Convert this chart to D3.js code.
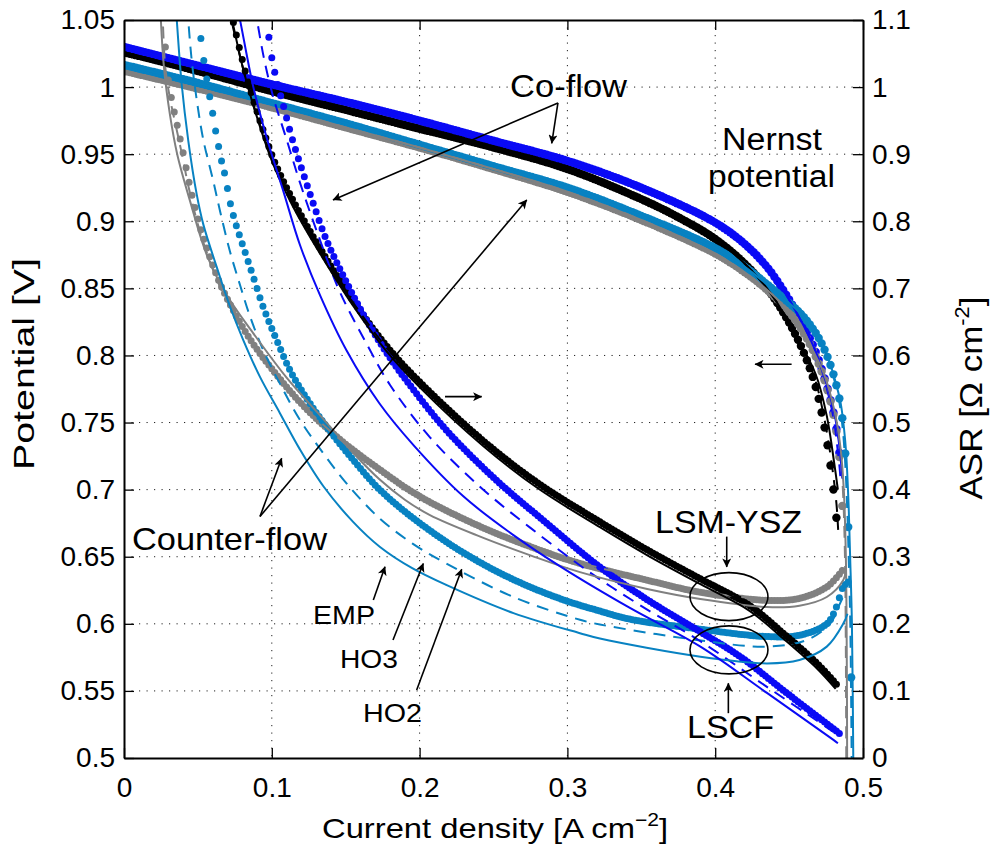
<!DOCTYPE html>
<html>
<head>
<meta charset="utf-8">
<script src="https://cdn.jsdelivr.net/npm/d3@7"></script>
<style>
  body { margin: 0; background: #fff; }
  svg { display: block; }
  text { font-family: "Liberation Sans", Arial, Helvetica, sans-serif; fill: #000; }
</style>
</head>
<body>
<svg id="chart" width="991" height="848"></svg>
<script>
// ---- axis ticks ----
const xTicks = [0, 0.1, 0.2, 0.3, 0.4, 0.5];
const vTicks = [0.5, 0.55, 0.6, 0.65, 0.7, 0.75, 0.8, 0.85, 0.9, 0.95, 1, 1.05];
const asrTicks = [0, 0.1, 0.2, 0.3, 0.4, 0.5, 0.6, 0.7, 0.8, 0.9, 1, 1.1];

// ---- potential curves (left axis, V) : shared body + per-model tail ----
const blackPot = [[0,1.026],[0.05,1.012],[0.1,0.997],[0.15,0.983],[0.2,0.969],[0.25,0.955],[0.3,0.939],[0.349,0.917],[0.375,0.903],[0.401,0.886],[0.424,0.864],[0.439,0.844],[0.455,0.814]];
const blackPotHo2Tail = [[0.466,0.784],[0.473,0.752],[0.478,0.718],[0.481,0.69],[0.4826,0.672]];
const blackPotHo3Tail = [[0.467,0.784],[0.474,0.752],[0.479,0.718],[0.482,0.69],[0.4832,0.67]];
const blackPotEmpTail = [[0.468,0.786],[0.4755,0.755],[0.4805,0.72],[0.483,0.70]];

const bluePot = [[0,1.030],[0.05,1.016],[0.1,1.002],[0.15,0.989],[0.2,0.975],[0.25,0.960],[0.3,0.945],[0.35,0.925],[0.4,0.899],[0.42,0.883],[0.435,0.866],[0.447,0.847],[0.457,0.828],[0.466,0.808],[0.472,0.79]];
const bluePotHo2Tail = [[0.477,0.771],[0.481,0.752],[0.4835,0.732],[0.4852,0.715],[0.486,0.703]];
const bluePotHo3Tail = [[0.4765,0.771],[0.4803,0.752],[0.4826,0.732],[0.4842,0.716],[0.4849,0.706]];
const bluePotEmpTail = [[0.4772,0.772],[0.4813,0.753],[0.4838,0.734],[0.4855,0.716],[0.4862,0.708]];

const tealPot = [[0,1.0165],[0.05,1.003],[0.1,0.988],[0.15,0.973],[0.2,0.957],[0.25,0.941],[0.3,0.925],[0.35,0.904],[0.4,0.88],[0.42,0.866],[0.435,0.853],[0.448,0.841],[0.458,0.831],[0.466,0.82],[0.472,0.809],[0.477,0.796]];
const tealPotHo2Tail = [[0.481,0.782],[0.4845,0.765],[0.4868,0.745],[0.488,0.727],[0.4895,0.69],[0.4905,0.65],[0.4915,0.60],[0.492,0.56]];
const tealPotHo3Tail = [[0.4805,0.782],[0.484,0.765],[0.4863,0.745],[0.4876,0.727],[0.4892,0.69],[0.4903,0.65],[0.4914,0.6],[0.4924,0.49]];
const tealPotEmpTail = [[0.481,0.782],[0.4848,0.765],[0.4872,0.745],[0.4886,0.727],[0.4902,0.69],[0.4913,0.65],[0.4925,0.6],[0.4935,0.49]];

const grayPot = [[0,1.0122],[0.05,0.999],[0.1,0.985],[0.15,0.970],[0.2,0.955],[0.25,0.939],[0.3,0.922],[0.35,0.901],[0.4,0.876],[0.42,0.862],[0.435,0.849],[0.448,0.835],[0.458,0.82],[0.466,0.804]];
const grayPotHo2Tail = [[0.472,0.788],[0.477,0.77],[0.481,0.75],[0.4835,0.73],[0.4855,0.70],[0.487,0.65],[0.4876,0.60],[0.4879,0.55]];
const grayPotHo3Tail = [[0.4725,0.788],[0.4776,0.77],[0.4817,0.75],[0.4843,0.73],[0.4864,0.70],[0.4878,0.65],[0.4884,0.58],[0.4887,0.49]];
const grayPotEmpTail = [[0.473,0.788],[0.4782,0.77],[0.4823,0.75],[0.4849,0.73],[0.487,0.70],[0.4884,0.65],[0.489,0.58],[0.4893,0.49]];

// ---- ASR curves (right axis, ohm cm2) ----
const blackAsrHo2 = [[0.0715,1.12],[0.0807,1.035],[0.0875,0.981],[0.0954,0.928],[0.102,0.888],[0.1123,0.840],[0.1213,0.803],[0.1326,0.760],[0.155,0.682],[0.1777,0.614],[0.2003,0.56],[0.243,0.473],[0.28,0.41],[0.322,0.352],[0.355,0.309],[0.39,0.267],[0.4235,0.227],[0.446,0.186],[0.469,0.141],[0.4824,0.109]];
const blackAsrHo3 = [[0.0705,1.12],[0.0797,1.035],[0.0865,0.981],[0.0944,0.928],[0.101,0.888],[0.1113,0.840],[0.1203,0.803],[0.1316,0.760],[0.154,0.682],[0.1767,0.614],[0.1993,0.56],[0.242,0.473],[0.279,0.41],[0.321,0.352],[0.354,0.309],[0.389,0.267],[0.4225,0.227],[0.445,0.186],[0.468,0.141],[0.4818,0.109]];
const blackAsrEmp = [[0.0712,1.12],[0.0803,1.03],[0.0872,0.975],[0.095,0.921],[0.1017,0.881],[0.112,0.832],[0.121,0.795],[0.1326,0.752],[0.155,0.674],[0.1777,0.606],[0.2003,0.552],[0.243,0.465],[0.28,0.402],[0.322,0.344],[0.355,0.301],[0.39,0.259],[0.4235,0.219],[0.446,0.178],[0.469,0.133],[0.4815,0.103]];

const blueAsrHo2 = [[0.0955,1.12],[0.0999,1.045],[0.1033,1.01],[0.108,0.971],[0.1134,0.926],[0.1213,0.871],[0.128,0.827],[0.137,0.772],[0.151,0.707],[0.164,0.653],[0.178,0.603],[0.191,0.563],[0.218,0.489],[0.252,0.414],[0.286,0.35],[0.32,0.288],[0.354,0.236],[0.39,0.188],[0.417,0.151],[0.446,0.101],[0.469,0.062],[0.4856,0.034]];
const blueAsrHo3 = [[0.0885,1.12],[0.0945,1.045],[0.101,0.985],[0.110,0.922],[0.119,0.858],[0.1326,0.772],[0.146,0.695],[0.164,0.618],[0.18,0.556],[0.207,0.478],[0.241,0.404],[0.275,0.343],[0.313,0.28],[0.349,0.228],[0.39,0.174],[0.435,0.106],[0.48,0.039]];
const blueAsrEmp = [[0.0765,1.12],[0.0785,1.1],[0.0875,1.0],[0.0965,0.925],[0.1078,0.845],[0.119,0.765],[0.1326,0.69],[0.1507,0.607],[0.173,0.528],[0.196,0.466],[0.2296,0.39],[0.263,0.333],[0.297,0.283],[0.342,0.224],[0.39,0.166],[0.435,0.097],[0.48,0.027],[0.483,0.022]];

const grayAsrHo2 = [[0.027,1.12],[0.0289,1.03],[0.0323,0.981],[0.0357,0.946],[0.0401,0.901],[0.0447,0.851],[0.0514,0.792],[0.056,0.76],[0.065,0.707],[0.0762,0.658],[0.0875,0.617],[0.1055,0.565],[0.1236,0.52],[0.146,0.475],[0.173,0.43],[0.2,0.39],[0.241,0.345],[0.275,0.315],[0.3085,0.29],[0.354,0.265],[0.39,0.247],[0.435,0.235],[0.457,0.238],[0.4755,0.255],[0.4844,0.275],[0.4878,0.285]];
const grayAsrHo3 = [[0.026,1.12],[0.0279,1.03],[0.0313,0.981],[0.0347,0.946],[0.0391,0.901],[0.0437,0.851],[0.0504,0.792],[0.055,0.76],[0.064,0.707],[0.0752,0.658],[0.0865,0.618],[0.1045,0.566],[0.1226,0.522],[0.145,0.477],[0.172,0.432],[0.199,0.392],[0.24,0.347],[0.274,0.317],[0.3075,0.292],[0.353,0.267],[0.389,0.249],[0.434,0.237],[0.456,0.24],[0.4748,0.257],[0.4838,0.277],[0.4872,0.287]];
const grayAsrEmp = [[0.0245,1.12],[0.027,1.03],[0.031,0.96],[0.036,0.90],[0.0447,0.83],[0.056,0.75],[0.0695,0.69],[0.0875,0.633],[0.11,0.567],[0.137,0.50],[0.155,0.455],[0.173,0.415],[0.19,0.385],[0.207,0.362],[0.241,0.33],[0.275,0.302],[0.3085,0.277],[0.354,0.252],[0.39,0.237],[0.435,0.225],[0.457,0.227],[0.4755,0.24],[0.4866,0.265],[0.4885,0.28]];

const tealAsrHo2 = [[0.0495,1.12],[0.0503,1.098],[0.0525,1.065],[0.0543,1.035],[0.0563,1.008],[0.0582,0.983],[0.0604,0.956],[0.0622,0.932],[0.0661,0.889],[0.0683,0.869],[0.0717,0.829],[0.0751,0.80],[0.0807,0.762],[0.0875,0.717],[0.0942,0.672],[0.1033,0.623],[0.1123,0.578],[0.1236,0.536],[0.137,0.494],[0.1552,0.444],[0.173,0.40],[0.196,0.357],[0.2296,0.306],[0.2635,0.266],[0.297,0.236],[0.322,0.219],[0.342,0.207],[0.39,0.192],[0.435,0.181],[0.457,0.183],[0.4755,0.2],[0.482,0.225],[0.4866,0.255],[0.491,0.264]];
const tealAsrHo3 = [[0.043,1.12],[0.0435,1.1],[0.0458,1.04],[0.0492,0.981],[0.0537,0.921],[0.0604,0.86],[0.065,0.815],[0.0717,0.755],[0.0785,0.705],[0.0853,0.658],[0.0942,0.608],[0.1055,0.558],[0.119,0.504],[0.1349,0.454],[0.1507,0.409],[0.173,0.357],[0.195,0.32],[0.218,0.29],[0.2635,0.24],[0.3085,0.206],[0.322,0.199],[0.3875,0.176],[0.435,0.166],[0.462,0.176],[0.4777,0.2],[0.4844,0.23],[0.4875,0.245]];
const tealAsrEmp = [[0.035,1.12],[0.0357,1.1],[0.039,1.005],[0.0435,0.92],[0.0492,0.84],[0.0537,0.795],[0.0627,0.732],[0.0717,0.673],[0.0807,0.623],[0.092,0.568],[0.1055,0.514],[0.119,0.46],[0.1349,0.405],[0.155,0.352],[0.173,0.315],[0.195,0.283],[0.218,0.258],[0.2635,0.216],[0.3085,0.186],[0.322,0.178],[0.39,0.151],[0.435,0.141],[0.457,0.146],[0.4755,0.166],[0.4866,0.2],[0.4895,0.215]];

// ---- annotations (data units: current density, potential) ----
const arrows = [
  [[0.2936,0.9882],[0.1414,0.9159]],
  [[0.2936,0.9882],[0.2894,0.9581]],
  [[0.0920,0.6800],[0.1067,0.7234]],
  [[0.0920,0.6800],[0.2725,0.9159]],
  [[0.2172,0.7693],[0.2420,0.7693]],
  [[0.4517,0.7934],[0.4269,0.7934]],
  [[0.4078,0.6650],[0.4078,0.6424]],
  [[0.4089,0.5334],[0.4089,0.5557]],
  [[0.1687,0.6178],[0.1766,0.6426]],
  [[0.1820,0.5880],[0.2025,0.6450]],
  [[0.1980,0.5507],[0.2285,0.6407]]
];
const ellipses = [[0.4093,0.6203],[0.4093,0.5806]];
const notes = [
  ["Co-flow", 0.2612, 0.9926, 32, 117],
  ["Nernst", 0.4046, 0.9531, 31, 100],
  ["potential", 0.3951, 0.9256, 31, 127],
  ["Counter-flow", 0.0054, 0.6551, 32, 195],
  ["LSM-YSZ", 0.3593, 0.6677, 32, 147],
  ["LSCF", 0.3809, 0.5150, 32, 87],
  ["EMP", 0.1279, 0.6000, 26, 62],
  ["HO3", 0.1461, 0.5671, 26, 58],
  ["HO2", 0.1617, 0.5269, 26, 59]
];

const cBlack = "#000000", cBlue = "#0a0af5", cTeal = "#0882c2", cGray = "#808080";

const svg = d3.select("#chart");
const L = 124, R = 863, T = 20, B = 758;
const x = d3.scaleLinear().domain([0, 0.5]).range([L, R]);
const yV = d3.scaleLinear().domain([0.5, 1.05]).range([B, T]);
const yA = d3.scaleLinear().domain([0, 1.1]).range([B, T]);

// grid
const grid = svg.append("g").attr("stroke", "#222").attr("stroke-width", 1).attr("stroke-dasharray", "1.2 6.3");
grid.selectAll("line.gx").data(xTicks.slice(1, -1)).join("line")
  .attr("x1", d => x(d)).attr("x2", d => x(d)).attr("y1", T).attr("y2", B);
grid.selectAll("line.gy").data(vTicks.slice(1, -1)).join("line")
  .attr("x1", L).attr("x2", R).attr("y1", d => yV(d)).attr("y2", d => yV(d));

svg.append("clipPath").attr("id", "plot").append("rect")
  .attr("x", L).attr("y", T).attr("width", R - L).attr("height", B - T);
const plot = svg.append("g").attr("clip-path", "url(#plot)");

const series = [
  {d: blackPot.concat(blackPotHo2Tail), c: cBlack, s: "ho2", y: yV},
  {d: bluePot.concat(bluePotHo2Tail), c: cBlue, s: "ho2", y: yV},
  {d: grayPot.concat(grayPotHo2Tail), c: cGray, s: "ho2", y: yV},
  {d: tealPot.concat(tealPotHo2Tail), c: cTeal, s: "ho2", y: yV},
  {d: blackPot.concat(blackPotHo3Tail), c: cBlack, s: "ho3", y: yV},
  {d: bluePot.concat(bluePotHo3Tail), c: cBlue, s: "ho3", y: yV},
  {d: grayPot.concat(grayPotHo3Tail), c: cGray, s: "ho3", y: yV},
  {d: tealPot.concat(tealPotHo3Tail), c: cTeal, s: "ho3", y: yV},
  {d: blackPot.concat(blackPotEmpTail), c: cBlack, s: "emp", y: yV},
  {d: bluePot.concat(bluePotEmpTail), c: cBlue, s: "emp", y: yV},
  {d: grayPot.concat(grayPotEmpTail), c: cGray, s: "emp", y: yV},
  {d: tealPot.concat(tealPotEmpTail), c: cTeal, s: "emp", y: yV},
  {d: grayAsrHo2, c: cGray, s: "ho2", y: yA},
  {d: tealAsrHo2, c: cTeal, s: "ho2", y: yA},
  {d: blackAsrHo2, c: cBlack, s: "ho2", y: yA},
  {d: blueAsrHo2, c: cBlue, s: "ho2", y: yA},
  {d: grayAsrHo3, c: cGray, s: "ho3", y: yA},
  {d: tealAsrHo3, c: cTeal, s: "ho3", y: yA},
  {d: blackAsrHo3, c: cBlack, s: "ho3", y: yA},
  {d: blueAsrHo3, c: cBlue, s: "ho3", y: yA},
  {d: grayAsrEmp, c: cGray, s: "emp", y: yA},
  {d: tealAsrEmp, c: cTeal, s: "emp", y: yA},
  {d: blackAsrEmp, c: cBlack, s: "emp", y: yA},
  {d: blueAsrEmp, c: cBlue, s: "emp", y: yA}
];

// marker positions every `step` of current density along the drawn curve
function markerPoints(node, step) {
  const total = node.getTotalLength();
  const pts = [];
  let prev = node.getPointAtLength(0);
  let next = Math.ceil(x.invert(prev.x) / step - 1e-6) * step;
  for (let l = 0.5; l <= total + 0.5; l += 0.5) {
    const p = node.getPointAtLength(Math.min(l, total));
    while (x.invert(p.x) >= next - 1e-9) {
      const px = x(next);
      const t = p.x === prev.x ? 0 : (px - prev.x) / (p.x - prev.x);
      pts.push([px, prev.y + t * (p.y - prev.y)]);
      next += step;
    }
    prev = p;
  }
  return pts;
}

series.forEach(sr => {
  const line = d3.line().x(d => x(d[0])).y(d => sr.y(d[1])).curve(d3.curveCatmullRom.alpha(0.5));
  const path = plot.append("path").datum(sr.d)
    .attr("fill", "none").attr("stroke", sr.c).attr("d", line);
  if (sr.s === "ho2") {
    path.attr("stroke-width", 0);
    const r = sr.y === yV ? 4.2 : 3.5;
    plot.append("g").attr("fill", sr.c)
      .selectAll("circle").data(markerPoints(path.node(), 0.002)).join("circle")
      .attr("cx", d => d[0]).attr("cy", d => d[1]).attr("r", r);
  } else if (sr.s === "ho3") {
    path.attr("stroke-width", 2).attr("stroke-dasharray", "12 8");
  } else {
    path.attr("stroke-width", 2);
  }
});

// axes
const fmt = d => String(+d.toFixed(2));
const axisStyle = g => {
  g.selectAll("text").attr("font-size", 28).attr("font-family", "Liberation Sans, Arial, sans-serif");
  g.selectAll(".tick line").attr("stroke", "#000").attr("stroke-width", 1.3);
  g.select(".domain").attr("stroke", "#000").attr("stroke-width", 2);
};
svg.append("g").attr("transform", `translate(0,${B})`)
  .call(d3.axisBottom(x).tickValues(xTicks).tickFormat(fmt).tickSize(-10).tickSizeOuter(0).tickPadding(19))
  .call(axisStyle);
svg.append("g").attr("transform", `translate(0,${T})`)
  .call(d3.axisTop(x).tickValues(xTicks).tickFormat("").tickSize(-10).tickSizeOuter(0))
  .call(axisStyle);
svg.append("g").attr("transform", `translate(${L},0)`)
  .call(d3.axisLeft(yV).tickValues(vTicks).tickFormat(fmt).tickSize(-10).tickSizeOuter(0).tickPadding(9))
  .call(axisStyle);
svg.append("g").attr("transform", `translate(${R},0)`)
  .call(d3.axisRight(yA).tickValues(asrTicks).tickFormat(fmt).tickSize(-10).tickSizeOuter(0).tickPadding(9))
  .call(axisStyle);

// axis titles
svg.append("text").attr("x", 495).attr("y", 838).attr("text-anchor", "middle").attr("font-size", 28)
  .attr("textLength", 346).attr("lengthAdjust", "spacingAndGlyphs")
  .html('Current density [A cm<tspan font-size="18" dy="-12">−2</tspan><tspan dy="12">]</tspan>');
svg.append("text").attr("transform", "translate(34,364) rotate(-90)").attr("text-anchor", "middle").attr("font-size", 30)
  .attr("textLength", 212).attr("lengthAdjust", "spacingAndGlyphs")
  .text("Potential [V]");
svg.append("text").attr("transform", "translate(982,398) rotate(-90)").attr("text-anchor", "middle").attr("font-size", 32)
  .attr("textLength", 203).attr("lengthAdjust", "spacingAndGlyphs")
  .html('ASR [Ω cm<tspan font-size="20" dy="-13">-2</tspan><tspan dy="13">]</tspan>');

// annotations
svg.append("defs").append("marker").attr("id", "head").attr("viewBox", "0 0 10 10")
  .attr("refX", 9.5).attr("refY", 5).attr("markerWidth", 13).attr("markerHeight", 9)
  .attr("markerUnits", "userSpaceOnUse").attr("orient", "auto")
  .append("path").attr("d", "M0,0 L10,5 L0,10 L2.5,5 Z").attr("fill", "#000");
const ann = svg.append("g");
ann.selectAll("line").data(arrows).join("line")
  .attr("x1", d => x(d[0][0])).attr("y1", d => yV(d[0][1]))
  .attr("x2", d => x(d[1][0])).attr("y2", d => yV(d[1][1]))
  .attr("stroke", "#000").attr("stroke-width", 1.6).attr("marker-end", "url(#head)");
ann.selectAll("ellipse").data(ellipses).join("ellipse")
  .attr("cx", d => x(d[0])).attr("cy", d => yV(d[1])).attr("rx", 39).attr("ry", 24)
  .attr("fill", "none").attr("stroke", "#000").attr("stroke-width", 1.6);
ann.selectAll("text").data(notes).join("text")
  .attr("x", d => x(d[1])).attr("y", d => yV(d[2])).attr("font-size", d => d[3])
  .attr("textLength", d => d[4]).attr("lengthAdjust", "spacingAndGlyphs")
  .text(d => d[0]);
</script>
</body>
</html>
